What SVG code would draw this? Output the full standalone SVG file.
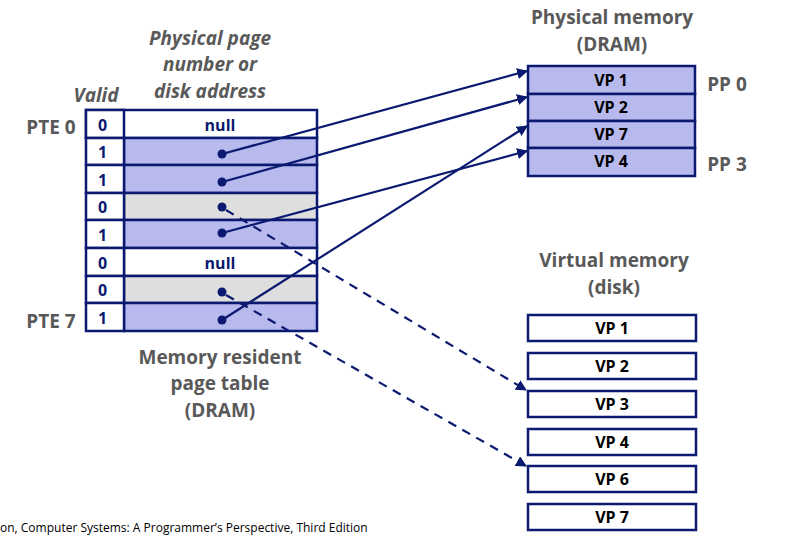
<svg xmlns="http://www.w3.org/2000/svg" width="789" height="536" viewBox="0 0 789 536">
<style>
.lbl{font-family:"Open Sans","Liberation Sans",sans-serif;font-weight:bold;fill:#595959;font-size:19px;text-anchor:middle}
.it{font-style:italic}
.cell{stroke:#0b1a70;stroke-width:2.5}
.ct{font-family:"Open Sans","Liberation Sans",sans-serif;font-weight:bold;fill:#0b1a70;font-size:16px}
.vp{font-family:"Open Sans","Liberation Sans",sans-serif;font-weight:bold;fill:#000;font-size:16px;text-anchor:middle}
.pl{fill:#b8b9ec}.wh{fill:#fff}.gr{fill:#dedede}
.con{stroke:#0b1a70;stroke-width:2.2;fill:none}
.dash{stroke-dasharray:9 7}
</style>
<defs><marker id="ah" viewBox="0 0 10 10" refX="9" refY="5" markerWidth="5" markerHeight="5" orient="auto"><path d="M0,0L10,5L0,10z" fill="#0b1a70"/></marker></defs>
<text class="lbl it" x="210" y="45">Physical page</text>
<text class="lbl it" x="210" y="71">number or</text>
<text class="lbl it" x="210" y="98">disk address</text>
<text class="lbl it" x="96" y="102">Valid</text>
<text class="lbl" x="51" y="134">PTE 0</text>
<text class="lbl" x="51" y="328">PTE 7</text>
<text class="lbl" x="220" y="364">Memory resident</text>
<text class="lbl" x="220" y="390">page table</text>
<text class="lbl" x="220" y="417">(DRAM)</text>
<text class="lbl" x="612" y="24">Physical memory</text>
<text class="lbl" x="612" y="51">(DRAM)</text>
<text class="lbl" x="727" y="91">PP 0</text>
<text class="lbl" x="727" y="171">PP 3</text>
<text class="lbl" x="614" y="267">Virtual memory</text>
<text class="lbl" x="614" y="294">(disk)</text>
<g id="pagetable">
<rect class="cell wh" x="86" y="110" width="231" height="28"/><rect class="cell wh" x="86" y="110" width="38" height="28"/>
<rect class="cell pl" x="124" y="138" width="193" height="27"/><rect class="cell wh" x="86" y="138" width="38" height="27"/>
<rect class="cell pl" x="124" y="165" width="193" height="28"/><rect class="cell wh" x="86" y="165" width="38" height="28"/>
<rect class="cell gr" x="124" y="193" width="193" height="27"/><rect class="cell wh" x="86" y="193" width="38" height="27"/>
<rect class="cell pl" x="124" y="220" width="193" height="28"/><rect class="cell wh" x="86" y="220" width="38" height="28"/>
<rect class="cell wh" x="124" y="248" width="193" height="28"/><rect class="cell wh" x="86" y="248" width="38" height="28"/>
<rect class="cell gr" x="124" y="276" width="193" height="27"/><rect class="cell wh" x="86" y="276" width="38" height="27"/>
<rect class="cell pl" x="124" y="303" width="193" height="28"/><rect class="cell wh" x="86" y="303" width="38" height="28"/>
<text class="ct" x="98" y="131">0</text><text class="ct" x="98" y="158">1</text><text class="ct" x="98" y="186">1</text><text class="ct" x="98" y="213">0</text>
<text class="ct" x="98" y="241">1</text><text class="ct" x="98" y="269">0</text><text class="ct" x="98" y="296">0</text><text class="ct" x="98" y="324">1</text>
<text class="ct" x="220" y="131" text-anchor="middle">null</text><text class="ct" x="220" y="269" text-anchor="middle">null</text>
<g fill="#0b1a70"><circle cx="222" cy="154" r="4.5"/><circle cx="222" cy="182" r="4.5"/><circle cx="222" cy="207" r="4.5"/><circle cx="222" cy="233" r="4.5"/><circle cx="222" cy="292" r="4.5"/><circle cx="222" cy="320" r="4.5"/></g>
</g>
<g id="physmem">
<rect class="cell pl" x="528" y="66" width="167" height="28"/><rect class="cell pl" x="528" y="94" width="167" height="27"/>
<rect class="cell pl" x="528" y="121" width="167" height="27"/><rect class="cell pl" x="528" y="148" width="167" height="28"/>
<text class="vp" x="611" y="86">VP 1</text><text class="vp" x="611" y="113">VP 2</text><text class="vp" x="611" y="140">VP 7</text><text class="vp" x="611" y="167">VP 4</text>
</g>
<g id="virtmem">
<rect class="cell wh" x="528" y="315" width="168" height="26"/><rect class="cell wh" x="528" y="353" width="168" height="26"/>
<rect class="cell wh" x="528" y="391" width="168" height="26"/><rect class="cell wh" x="528" y="429" width="168" height="26"/>
<rect class="cell wh" x="528" y="466" width="168" height="26"/><rect class="cell wh" x="528" y="504" width="168" height="26"/>
<text class="vp" x="612" y="334">VP 1</text><text class="vp" x="612" y="372">VP 2</text><text class="vp" x="612" y="410">VP 3</text>
<text class="vp" x="612" y="448">VP 4</text><text class="vp" x="612" y="485">VP 6</text><text class="vp" x="612" y="523">VP 7</text>
</g>
<g id="connectors">
<line class="con" x1="222" y1="154" x2="527" y2="71" marker-end="url(#ah)"/>
<line class="con" x1="222" y1="182" x2="527" y2="97" marker-end="url(#ah)"/>
<line class="con" x1="222" y1="233" x2="527" y2="151" marker-end="url(#ah)"/>
<line class="con" x1="222" y1="320" x2="527" y2="126" marker-end="url(#ah)"/>
<line class="con dash" x1="226" y1="210" x2="526" y2="390" marker-end="url(#ah)"/>
<line class="con dash" x1="226" y1="295" x2="526" y2="466" marker-end="url(#ah)"/>
</g>
<text x="0" y="532" font-family="Open Sans,Liberation Sans,sans-serif" font-size="12" fill="#000">on, Computer Systems: A Programmer’s Perspective, Third Edition</text>
</svg>
